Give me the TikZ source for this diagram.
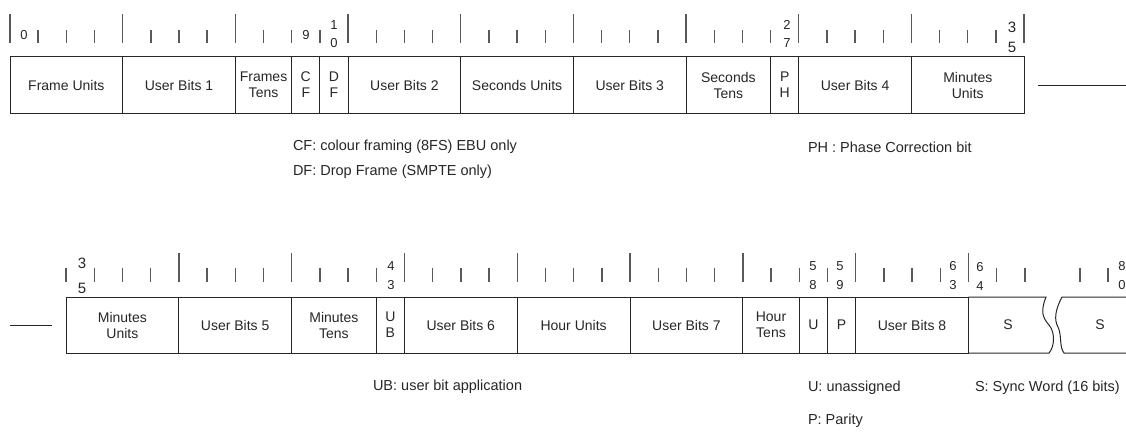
\documentclass[tikz,border=0pt]{standalone}
\usepackage{fontspec}
\setmainfont{Liberation Sans}
\begin{document}
\begin{tikzpicture}[x=1pt,y=-1pt,
  every node/.style={inner sep=0pt, outer sep=0pt, text=black!85},
  field/.style={draw=black!85, line width=1pt, minimum height=56pt, align=center, font=\fontsize{14}{16}\selectfont},
  tick/.style={draw=black!65, line width=1.4pt},
  num/.style={font=\fontsize{13}{18}\selectfont, align=center},
  bignum/.style={font=\fontsize{15}{20}\selectfont, align=center},
  note/.style={anchor=west, font=\fontsize{14.5}{17}\selectfont},
  rule/.style={draw=black!85, line width=1pt}]
\useasboundingbox (0,0) rectangle (1126,436);

% ---------- top row ----------
\foreach \b in {0,...,36} {
  \pgfmathsetmacro\xx{10+\b*28.17}
  \pgfmathsetmacro\yt{mod(\b,4)==0 ? 14 : 30}
  \draw[tick] (\xx,\yt) -- (\xx,43);
}
\foreach \s/\e/\n/\t in {0/4/fu/{Frame Units}, 4/8/ubA/{User Bits 1}, 8/10/ft/{Frames\\Tens},
  10/11/cf/{C\\F}, 11/12/df/{D\\F}, 12/16/ubB/{User Bits 2}, 16/20/su/{Seconds Units},
  20/24/ubC/{User Bits 3}, 24/27/st/{Seconds\\Tens}, 27/28/ph/{P\\H}, 28/32/ubD/{User Bits 4},
  32/36/mu/{Minutes\\Units}} {
  \pgfmathsetmacro\cx{10+(\s+\e)/2*28.17}
  \pgfmathsetmacro\w{(\e-\s)*28.17}
  \node[field, minimum width=\w pt] (\n) at (\cx,85) {\t};
}
\node[num] (n0) at (24,35) {0};
\node[num] (n9) at (306,35) {9};
\node[num] (n10) at (334,34) {1\\0};
\node[num] (n27) at (787,34) {2\\7};
\node[bignum] (n35) at (1012,37) {3\\5};
\coordinate (cr) at (1126,85);
\draw[rule] ([xshift=14pt]mu.east) -- (cr);

% ---------- bottom row ----------
\foreach \b in {32,...,66} {
  \pgfmathsetmacro\xx{66+(\b-32)*28.2}
  \pgfmathsetmacro\yt{(mod(\b,4)==0 && \b>32) ? 253 : 268}
  \draw[tick] (\xx,\yt) -- (\xx,282);
}
\draw[tick] (1080,268) -- (1080,282);
\draw[tick] (1108,268) -- (1108,282);
\foreach \s/\e/\n/\t in {32/36/muB/{Minutes\\Units}, 36/40/ubE/{User Bits 5}, 40/43/mt/{Minutes\\Tens},
  43/44/ub/{U\\B}, 44/48/ubF/{User Bits 6}, 48/52/hu/{Hour Units}, 52/56/ubG/{User Bits 7},
  56/58/ht/{Hour\\Tens}, 58/59/u/{U}, 59/60/p/{P}, 60/64/ubH/{User Bits 8}} {
  \pgfmathsetmacro\cx{66+((\s+\e)/2-32)*28.2}
  \pgfmathsetmacro\w{(\e-\s)*28.2}
  \node[field, minimum width=\w pt] (\n) at (\cx,325) {\t};
}
% sync word with break
\draw[rule] (ubH.north east) -- (1046,297)
  .. controls (1040,312) and (1043,318) .. (1049,325)
  .. controls (1055,332) and (1055,346) .. (1049,353) -- (ubH.south east);
\draw[rule] (1126,297) -- (1062,297)
  .. controls (1055,310) and (1054,320) .. (1058,327)
  .. controls (1062,335) and (1059,347) .. (1064,353) -- (1126,353);
\node[font=\fontsize{14}{16}\selectfont] (sA) at (1008,325) {S};
\node[font=\fontsize{14}{16}\selectfont] (sB) at (1100,325) {S};

\node[font=\fontsize{15}{25}\selectfont, align=center] (m35) at (82,276) {3\\5};
\node[num, font=\fontsize{13}{19}\selectfont] (m43) at (391,276) {4\\3};
\node[num, font=\fontsize{13}{19}\selectfont] (m58) at (813,276) {5\\8};
\node[num, font=\fontsize{13}{19}\selectfont] (m59) at (840,276) {5\\9};
\node[num, font=\fontsize{13}{19}\selectfont] (m63) at (953,276) {6\\3};
\node[num, font=\fontsize{13}{19}\selectfont] (m64) at (980,276) {6\\4};
\node[num, font=\fontsize{13}{19}\selectfont] (m80) at (1122,276) {8\\0};
\coordinate (cl) at (10,325);
\draw[rule] (cl) -- ([xshift=-14pt]muB.west);

% ---------- notes ----------
\node[note] (tcf) at (293,147) {CF: colour framing (8FS) EBU only};
\node[note] (tdf) at (293,172) {DF: Drop Frame (SMPTE only)};
\node[note] (tph) at (808,147) {PH : Phase Correction bit};
\node[note] (tub) at (373,387) {UB: user bit application};
\node[note] (tu) at (808,388) {U: unassigned};
\node[note] (ts) at (975,388) {S: Sync Word (16 bits)};
\node[note] (tp) at (808,421) {P: Parity};
\end{tikzpicture}
\end{document}
